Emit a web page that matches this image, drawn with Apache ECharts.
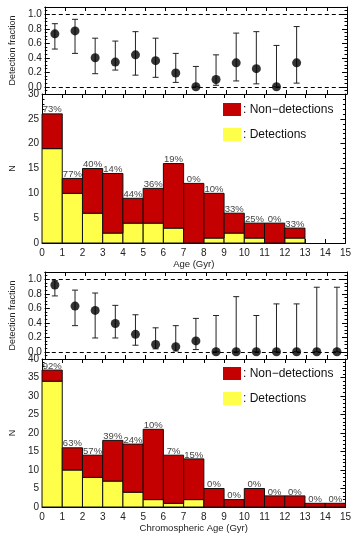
<!DOCTYPE html>
<html>
<head>
<meta charset="utf-8">
<script src="https://cdn.jsdelivr.net/npm/echarts@6/dist/echarts.min.js"></script>
<style>
  html, body { margin: 0; padding: 0; background: #fff; }
  #chart { width: 354px; height: 534px; }
</style>
</head>
<body>
<div id="chart"></div>
<script>
// --- age panel ---
const ageX = [0.5, 1.5, 2.5, 3.5, 4.5, 5.5, 6.5, 7.5, 8.5, 9.5, 10.5, 11.5, 12.5]
const ageFrac = [0.73, 0.77, 0.40, 0.34, 0.44, 0.36, 0.19, 0.00, 0.10, 0.33, 0.25, 0.00, 0.33]
const ageFracLo = [0.52, 0.46, 0.18, 0.23, 0.16, 0.13, 0.06, 0.00, 0.02, 0.08, 0.04, 0.00, 0.05]
const ageFracHi = [0.87, 0.93, 0.67, 0.63, 0.76, 0.67, 0.46, 0.28, 0.44, 0.74, 0.76, 0.57, 0.83]
const ageTotal = [26, 13, 15, 14, 9, 11, 16, 12, 10, 6, 4, 4, 3]
const ageDet = [19, 10, 6, 2, 4, 4, 3, 0, 1, 2, 1, 0, 1]
const agePct = ['73%', '77%', '40%', '14%', '44%', '36%', '19%', '0%', '10%', '33%', '25%', '0%', '33%']

// --- chromospheric age panel ---
const chX = [0.5, 1.5, 2.5, 3.5, 4.5, 5.5, 6.5, 7.5, 8.5, 9.5, 10.5, 11.5, 12.5, 13.5, 14.5]
const chFrac = [0.92, 0.63, 0.57, 0.39, 0.24, 0.10, 0.07, 0.15, 0, 0, 0, 0, 0, 0, 0]
const chFracLo = [0.77, 0.36, 0.19, 0.19, 0.09, 0.04, 0.01, 0.03, 0, 0, 0, 0, 0, 0, 0]
const chFracHi = [0.98, 0.85, 0.81, 0.64, 0.51, 0.33, 0.36, 0.46, 0.50, 0.76, 0.50, 0.66, 0.66, 0.89, 0.89]
const chTotal = [37, 16, 14, 18, 17, 21, 14, 13, 5, 2, 5, 3, 3, 1, 1]
const chDet = [34, 10, 8, 7, 4, 2, 1, 2, 0, 0, 0, 0, 0, 0, 0]
const chPct = ['92%', '63%', '57%', '39%', '24%', '10%', '7%', '15%', '0%', '0%', '0%', '0%', '0%', '0%', '0%']

const fracLabels = [0, 0.2, 0.4, 0.6, 0.8, 1.0]

const FONT = '"Liberation Sans", Arial, sans-serif'
const RED = '#c40000'
const YELLOW = '#ffff4a'
const NONDET = ': Non\u2212detections'
const DET = ': Detections'

const fracMinor = []
for (let i = -2; i <= 22; i++) fracMinor.push(+(i * 0.05).toFixed(2))

const chart = echarts.init(document.getElementById('chart'))

function xAx(g, pos, label, name) {
  return {
    type: 'value', gridIndex: g, position: pos, min: 0, max: 15, interval: 1,
    axisLine: { show: true, onZero: false, lineStyle: { color: '#000', width: 1 } },
    axisTick: { show: true, inside: true, length: 4, lineStyle: { color: '#000' } },
    axisLabel: { show: label, color: '#222', fontSize: 10, margin: 5, fontFamily: FONT },
    splitLine: { show: false },
    name: name || '', nameLocation: 'middle', nameGap: 16,
    nameTextStyle: { color: '#222', fontSize: 9.5, fontFamily: FONT }
  }
}

function fracAx(g, pos, major, name) {
  const vals = major ? fracLabels : fracMinor
  return {
    type: 'value', gridIndex: g, position: pos, min: -0.1, max: 1.1,
    axisLine: { show: major, onZero: false, lineStyle: { color: '#000', width: 1 } },
    axisTick: { show: true, inside: true, length: major ? 5 : 2.5, customValues: vals, lineStyle: { color: '#000' } },
    axisLabel: {
      show: major && pos === 'left', customValues: fracLabels, color: '#222', fontSize: 10,
      margin: 3, fontFamily: FONT, formatter: v => v.toFixed(1)
    },
    splitLine: { show: false },
    name: name || '', nameLocation: 'middle', nameGap: 22,
    nameTextStyle: { color: '#222', fontSize: 9, fontFamily: FONT }
  }
}

function histAx(g, pos, max) {
  return {
    type: 'value', gridIndex: g, position: pos, min: 0, max: max, interval: 5,
    axisLine: { show: true, onZero: false, lineStyle: { color: '#000', width: 1 } },
    axisTick: { show: true, inside: true, length: 5, lineStyle: { color: '#000' } },
    minorTick: { show: true, splitNumber: 5, length: 2.5, lineStyle: { color: '#000' } },
    axisLabel: { show: pos === 'left', color: '#222', fontSize: 10, margin: 3, fontFamily: FONT },
    splitLine: { show: false },
    name: pos === 'left' ? 'N' : '', nameLocation: 'middle', nameGap: 20,
    nameTextStyle: { color: '#222', fontSize: 9, fontFamily: FONT }
  }
}

function barItem(params, api) {
  const a = api.coord([api.value(0), api.value(3)])
  const b = api.coord([api.value(1), api.value(2)])
  return {
    type: 'rect',
    shape: { x: a[0], y: a[1], width: b[0] - a[0], height: b[1] - a[1] },
    style: { fill: api.visual('color'), stroke: '#111', lineWidth: 1 }
  }
}

function pctItem(params, api) {
  const p = api.coord([api.value(0), api.value(1)])
  return {
    type: 'text', x: p[0], y: p[1] + 1,
    style: {
      text: api.value(2), fill: '#444', font: '9.5px ' + FONT,
      align: 'center', verticalAlign: 'bottom'
    }
  }
}

function errItem(params, api) {
  const x = api.value(0)
  const lo = api.coord([x, api.value(1)])
  const hi = api.coord([x, api.value(2)])
  const w = 3
  const st = { stroke: '#222', lineWidth: 1 }
  return {
    type: 'group',
    children: [
      { type: 'line', shape: { x1: lo[0], y1: lo[1], x2: hi[0], y2: hi[1] }, style: st },
      { type: 'line', shape: { x1: lo[0] - w, y1: lo[1], x2: lo[0] + w, y2: lo[1] }, style: st },
      { type: 'line', shape: { x1: hi[0] - w, y1: hi[1], x2: hi[0] + w, y2: hi[1] }, style: st }
    ]
  }
}

function fracSeries(xi, yi, xs, f, lo, hi) {
  return [{
    type: 'custom', xAxisIndex: xi, yAxisIndex: yi, renderItem: errItem,
    data: xs.map((x, i) => [x, lo[i], hi[i]]), silent: true, z: 3
  }, {
    type: 'scatter', xAxisIndex: xi, yAxisIndex: yi, symbol: 'circle', symbolSize: 9,
    itemStyle: { color: '#000' }, data: xs.map((x, i) => [x, f[i]]), z: 4,
    markLine: {
      silent: true, symbol: 'none', label: { show: false },
      lineStyle: { color: '#000', width: 1, type: [4, 3] },
      data: [{ yAxis: 0 }, { yAxis: 1 }]
    }
  }]
}

function histSeries(xi, yi, total, det, pct) {
  return [{
    name: DET, type: 'custom', xAxisIndex: xi, yAxisIndex: yi, renderItem: barItem,
    itemStyle: { color: YELLOW },
    data: total.map((t, i) => [i, i + 1, 0, det[i]]), z: 3
  }, {
    name: NONDET, type: 'custom', xAxisIndex: xi, yAxisIndex: yi, renderItem: barItem,
    itemStyle: { color: RED },
    data: total.map((t, i) => [i, i + 1, det[i], t]), z: 3
  }, {
    type: 'custom', xAxisIndex: xi, yAxisIndex: yi, renderItem: pctItem, silent: true,
    data: total.map((t, i) => [i + 0.5, t, pct[i]]), z: 5
  }]
}

function legendAt(top) {
  return {
    orient: 'vertical', left: 218, top: top, icon: 'rect', itemWidth: 18, itemHeight: 13,
    itemGap: 12, selectedMode: false, data: [NONDET, DET],
    textStyle: { color: '#111', fontSize: 12, fontFamily: FONT, padding: [0, 0, 0, -3] }
  }
}

chart.setOption({
  animation: false,
  grid: [
    { left: 32, right: 7, top: 7, height: 87 },
    { left: 32, right: 7, top: 94, height: 149 },
    { left: 32, right: 7, top: 272, height: 87 },
    { left: 32, right: 7, top: 359, height: 149 }
  ],
  legend: [legendAt(98), legendAt(362)],
  xAxis: [
    xAx(0, 'bottom', false), xAx(0, 'top', false),
    xAx(1, 'bottom', true, 'Age (Gyr)'), xAx(1, 'top', false),
    xAx(2, 'bottom', false), xAx(2, 'top', false),
    xAx(3, 'bottom', true, 'Chromospheric Age (Gyr)'), xAx(3, 'top', false)
  ],
  yAxis: [
    fracAx(0, 'left', true, 'Detection fraction'), fracAx(0, 'left', false),
    fracAx(0, 'right', true), fracAx(0, 'right', false),
    histAx(1, 'left', 30), histAx(1, 'right', 30),
    fracAx(2, 'left', true, 'Detection fraction'), fracAx(2, 'left', false),
    fracAx(2, 'right', true), fracAx(2, 'right', false),
    histAx(3, 'left', 40), histAx(3, 'right', 40)
  ],
  series: [
    ...fracSeries(0, 0, ageX, ageFrac, ageFracLo, ageFracHi),
    ...histSeries(2, 4, ageTotal, ageDet, agePct),
    ...fracSeries(4, 6, chX, chFrac, chFracLo, chFracHi),
    ...histSeries(6, 10, chTotal, chDet, chPct)
  ]
})
</script>
</body>
</html>
